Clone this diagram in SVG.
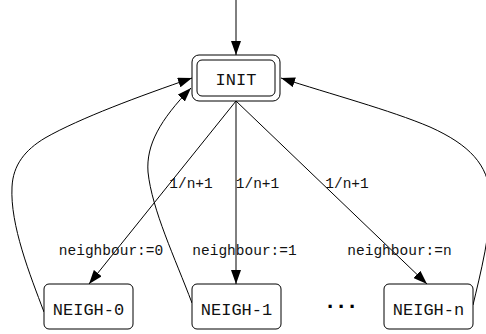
<svg xmlns="http://www.w3.org/2000/svg" width="486" height="334" viewBox="0 0 486 334">
  <style>
    .box { fill: #ffffff; stroke: #000000; stroke-width: 1; }
    .edge { fill: none; stroke: #000000; stroke-width: 1; }
    .node-label { font-family: "Liberation Mono", "Courier New", monospace; font-size: 17px; text-anchor: middle; fill: #111111; }
    .edge-label { font-family: "Liberation Mono", "Courier New", monospace; font-size: 14.5px; text-anchor: middle; fill: #111111; }
    .dots { font-family: "Liberation Mono", "Courier New", monospace; font-size: 22px; font-weight: bold; letter-spacing: -2.2px; text-anchor: middle; fill: #000000; }
  </style>
  <defs>
    <marker id="arrow" viewBox="0 0 14 10" refX="14" refY="5" markerWidth="14" markerHeight="10" markerUnits="userSpaceOnUse" orient="auto">
      <path d="M0,0 L14,5 L0,10 Z" fill="#000000"/>
    </marker>
  </defs>
  <rect width="486" height="334" fill="#ffffff"/>

  <g id="connectors">
    <!-- entry into the initial state -->
    <path class="edge" d="M236,0 L236,55" marker-end="url(#arrow)"/>
    <!-- probabilistic choice of neighbour -->
    <path class="edge" d="M236,101 L89,284" marker-end="url(#arrow)"/>
    <path class="edge" d="M236,101 L236,284" marker-end="url(#arrow)"/>
    <path class="edge" d="M236,101 L427,284" marker-end="url(#arrow)"/>
    <!-- return edges -->
    <path class="edge" d="M44,312 C30,275 10,225 12,187 C13,165 25,150 45,138 C80,118 140,96 192,78" marker-end="url(#arrow)"/>
    <path class="edge" d="M192,303 C175,258 152,210 148,172 C146,145 160,120 191,88" marker-end="url(#arrow)"/>
    <path class="edge" d="M473,305 C480,275 492,230 490,195 C488,165 470,145 430,127 C390,110 330,94 281,78" marker-end="url(#arrow)"/>
    <!-- edge labels -->
    <text class="edge-label" x="191" y="188">1/n+1</text>
    <text class="edge-label" x="257.5" y="188">1/n+1</text>
    <text class="edge-label" x="347" y="188">1/n+1</text>
    <text class="edge-label" x="111" y="255">neighbour:=0</text>
    <text class="edge-label" x="244.5" y="255">neighbour:=1</text>
    <text class="edge-label" x="399.5" y="255">neighbour:=n</text>
  </g>

  <g id="INIT">
    <rect class="box" x="192" y="55" width="88" height="46" rx="7"/>
    <rect class="box" x="197" y="60" width="78" height="36" rx="5"/>
    <text class="node-label" x="236" y="85">INIT</text>
  </g>

  <g id="NEIGH-0">
    <rect class="box" x="44" y="284" width="89" height="45" rx="5"/>
    <text class="node-label" x="88.5" y="315">NEIGH-0</text>
  </g>

  <g id="NEIGH-1">
    <rect class="box" x="192" y="284" width="89" height="45" rx="5"/>
    <text class="node-label" x="236.5" y="315">NEIGH-1</text>
  </g>

  <g id="ellipsis">
    <text class="dots" x="340" y="307.5">...</text>
  </g>

  <g id="NEIGH-n">
    <rect class="box" x="384" y="284" width="89" height="45" rx="5"/>
    <text class="node-label" x="428.5" y="315">NEIGH-n</text>
  </g>
</svg>
